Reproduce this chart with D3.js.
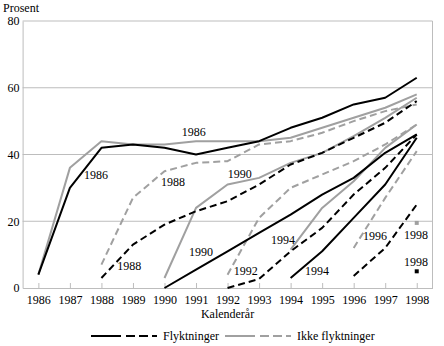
<!DOCTYPE html>
<html>
<head>
<meta charset="utf-8">
<script src="https://cdn.jsdelivr.net/npm/d3@7"></script>
<style>
  body { margin: 0; background: #fff; }
  svg text { font-family: "Liberation Serif", "Times New Roman", Times, serif !important; }
</style>
</head>
<body>
<svg id="chart"></svg>
<script>
const width = 444, height = 346;

// Kalenderår på x-aksen
const years = [1986, 1987, 1988, 1989, 1990, 1991, 1992, 1993, 1994, 1995, 1996, 1997, 1998];
const yTicks = [0, 20, 40, 60, 80];

// Flyktninger, etter innvandringsår (første verdi = innvandringsåret)
const flykt1986 = [4, 30, 42, 43, 42, 40, 42, 44, 48, 51, 55, 57, 63];
const flykt1988 = [3, 13, 19, 23, 26, 31, 37, 40.5, 45, 49.5, 56];
const flykt1990 = [0, 5.5, 11, 16.5, 22, 28, 33, 40.5, 46];
const flykt1992 = [0, 2.7, 11, 18, 28, 36, 46];
const flykt1994 = [3, 11, 21, 31, 45];
const flykt1996 = [3.6, 12, 25];
const flykt1998 = [5];

// Ikke flyktninger
const ikke1986 = [4, 36, 44, 43, 43, 44, 44, 44, 45, 48, 51, 54, 58];
const ikke1988 = [7, 27, 35, 37.5, 38, 43, 44, 46.5, 50, 53, 55];
const ikke1990 = [3, 24, 31, 33, 37.5, 40.5, 45.5, 51, 57];
const ikke1992 = [4, 21, 30, 34, 38, 43, 49];
const ikke1994 = [11.5, 24, 32, 42, 49];
const ikke1996 = [12, 27, 41];
const ikke1998 = [19.5];

const cohorts = [
  { start: 1986, values: ikke1986, group: "ikke" },
  { start: 1988, values: ikke1988, group: "ikke" },
  { start: 1990, values: ikke1990, group: "ikke" },
  { start: 1992, values: ikke1992, group: "ikke" },
  { start: 1994, values: ikke1994, group: "ikke" },
  { start: 1996, values: ikke1996, group: "ikke" },
  { start: 1998, values: ikke1998, group: "ikke" },
  { start: 1986, values: flykt1986, group: "flykt" },
  { start: 1988, values: flykt1988, group: "flykt" },
  { start: 1990, values: flykt1990, group: "flykt" },
  { start: 1992, values: flykt1992, group: "flykt" },
  { start: 1994, values: flykt1994, group: "flykt" },
  { start: 1996, values: flykt1996, group: "flykt" },
  { start: 1998, values: flykt1998, group: "flykt" }
];

// Årstall skrevet ved kurvene (ankerpunkt i år/prosent)
const cohortLabels = [
  { text: "1986", year: 1987.83, value: 33.9 },
  { text: "1986", year: 1990.93, value: 46.7 },
  { text: "1988", year: 1990.27, value: 31.8 },
  { text: "1990", year: 1992.39, value: 34.2 },
  { text: "1990", year: 1991.16, value: 10.8 },
  { text: "1988", year: 1988.88, value: 6.6 },
  { text: "1992", year: 1992.58, value: 5.1 },
  { text: "1994", year: 1993.76, value: 14.4 },
  { text: "1994", year: 1994.84, value: 5.1 },
  { text: "1996", year: 1996.68, value: 15.6 },
  { text: "1998", year: 1997.98, value: 15.9 },
  { text: "1998", year: 1997.98, value: 7.8 }
];

const colors = { flykt: "#000", ikke: "#a0a0a0" };

const x = d3.scaleLinear().domain([1985.5, 1998.5]).range([22.6, 432.5]);
const y = d3.scaleLinear().domain([0, 80]).range([288, 21]);

const svg = d3.select("#chart")
  .attr("width", width)
  .attr("height", height);

// rutenett og ramme
svg.append("g")
  .selectAll("line")
  .data(yTicks.filter(d => d > 0))
  .enter().append("line")
  .attr("x1", x.range()[0]).attr("x2", x.range()[1])
  .attr("y1", d => y(d)).attr("y2", d => y(d))
  .attr("stroke", "#bdbdbd").attr("stroke-width", 1);

svg.append("line")
  .attr("x1", x.range()[1]).attr("x2", x.range()[1])
  .attr("y1", y(80)).attr("y2", y(0))
  .attr("stroke", "#bdbdbd");

// y-akse
const yAxis = svg.append("g")
  .attr("transform", `translate(${x.range()[0]},0)`)
  .call(d3.axisLeft(y).tickValues(yTicks).tickSize(0).tickPadding(3))
  .attr("font-size", 12);
yAxis.select(".domain").attr("stroke", "#bdbdbd");
yAxis.selectAll("text").attr("fill", "#000");

// x-akse med små innoverpekende streker
const xAxis = svg.append("g")
  .attr("transform", `translate(0,${y(0)})`)
  .call(d3.axisBottom(x).tickValues(years).tickFormat(d3.format("d")).tickSizeInner(-5).tickSizeOuter(0).tickPadding(7))
  .attr("font-size", 12);
xAxis.select(".domain").attr("stroke", "#bdbdbd");
xAxis.selectAll(".tick line").attr("stroke", "#bdbdbd");
xAxis.selectAll("text").attr("fill", "#000");

svg.append("text")
  .attr("x", 3).attr("y", 12)
  .attr("font-size", 12)
  .text("Prosent");

svg.append("text")
  .attr("x", (x.range()[0] + x.range()[1]) / 2).attr("y", 318)
  .attr("text-anchor", "middle")
  .attr("font-size", 12)
  .text("Kalenderår");

// kurver
const line = d3.line()
  .x(d => x(d.year))
  .y(d => y(d.value));

const toPoints = c => c.values.map((v, i) => ({ year: c.start + i, value: v }));

svg.append("g")
  .selectAll("path")
  .data(cohorts.filter(c => c.values.length > 1))
  .enter().append("path")
  .attr("d", c => line(toPoints(c)))
  .attr("fill", "none")
  .attr("stroke", c => colors[c.group])
  .attr("stroke-width", 2)
  .attr("stroke-dasharray", c => ((c.start - 1986) / 2) % 2 === 1 ? "7,4" : null)
  .attr("stroke-linejoin", "round");

// enkeltpunkt for 1998
svg.append("g")
  .selectAll("rect")
  .data(cohorts.filter(c => c.values.length === 1))
  .enter().append("rect")
  .attr("x", c => x(c.start) - 2)
  .attr("y", c => y(c.values[0]) - 2)
  .attr("width", 4).attr("height", 4)
  .attr("fill", c => colors[c.group]);

svg.append("g")
  .selectAll("text")
  .data(cohortLabels)
  .enter().append("text")
  .attr("x", d => x(d.year))
  .attr("y", d => y(d.value) + 4)
  .attr("text-anchor", "middle")
  .attr("font-size", 12)
  .text(d => d.text);

// tegnforklaring
const legend = svg.append("g").attr("transform", "translate(0,336)");
const legendItems = [
  { x0: 91, color: colors.flykt, label: "Flyktninger" },
  { x0: 225, color: colors.ikke, label: "Ikke flyktninger" }
];
legendItems.forEach(item => {
  legend.append("line")
    .attr("x1", item.x0).attr("x2", item.x0 + 30)
    .attr("stroke", item.color).attr("stroke-width", 2);
  legend.append("line")
    .attr("x1", item.x0 + 35).attr("x2", item.x0 + 66)
    .attr("stroke", item.color).attr("stroke-width", 2)
    .attr("stroke-dasharray", "9,4");
  legend.append("text")
    .attr("x", item.x0 + 72).attr("y", 4)
    .attr("font-size", 12)
    .text(item.label);
});
</script>
</body>
</html>
